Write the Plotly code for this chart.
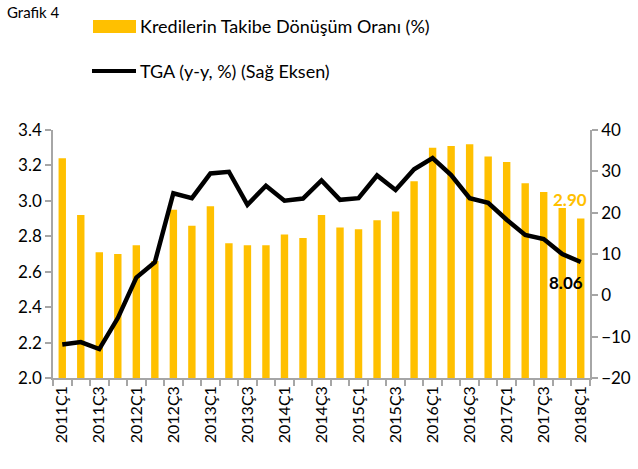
import plotly.graph_objects as go

categories = [f"{y}Ç{q}" for y in range(2011, 2019) for q in range(1, 5)][:29]
ratio = [3.24, 2.92, 2.71, 2.70, 2.75, 2.66, 2.95, 2.86, 2.97, 2.76, 2.75, 2.75,
         2.81, 2.79, 2.92, 2.85, 2.84, 2.89, 2.94, 3.11, 3.30, 3.31, 3.32, 3.25,
         3.22, 3.10, 3.05, 2.96, 2.90]
tga = [-11.9, -11.3, -13.0, -5.5, 4.3, 8.0, 24.7, 23.5, 29.5, 29.9, 21.9, 26.5,
       22.9, 23.4, 27.8, 23.1, 23.5, 29.0, 25.5, 30.5, 33.2, 29.1, 23.5, 22.4,
       18.3, 14.6, 13.6, 10.0, 8.06]
tick_labels = categories[::2]

ORANGE = "#FFC000"
FONT = "Lato"
AXIS_COL = "#A6A6A6"

xs = list(range(len(categories)))

fig = go.Figure()
fig.add_trace(go.Bar(x=xs, y=ratio, marker=dict(color=ORANGE, line=dict(width=0)),
                     name="Kredilerin Takibe Dönüşüm Oranı (%)", showlegend=False))
fig.add_trace(go.Scatter(x=xs, y=tga, mode="lines", yaxis="y2",
                         line=dict(color="black", width=4.5), name="TGA (y-y, %) (Sağ Eksen)",
                         showlegend=False))

fig.update_layout(
    width=638, height=469,
    margin=dict(l=53, r=48, t=130, b=91),
    paper_bgcolor="white", plot_bgcolor="white",
    font=dict(family=FONT, size=16, color="black"),
    bargap=0.6,
    xaxis=dict(range=[-0.5, len(categories) - 0.5], tickmode="array",
               tickvals=xs[::2], ticktext=tick_labels, tickangle=-90,
               ticks="", showline=True, linecolor=AXIS_COL, linewidth=1.5,
               showgrid=False, zeroline=False, tickfont=dict(size=16), automargin=False,
               minor=dict(ticks="outside", tick0=-0.5, dtick=1, ticklen=6,
                          tickcolor=AXIS_COL, tickwidth=1.5, showgrid=False)),
    yaxis=dict(range=[2.0, 3.4], dtick=0.2, tickformat=".1f", showline=True,
               linecolor=AXIS_COL, linewidth=1.5, ticks="outside", ticklen=6,
               tickcolor=AXIS_COL, tickwidth=1.5, showgrid=False, zeroline=False,
               tickfont=dict(size=17), automargin=False),
    yaxis2=dict(range=[-20, 40], dtick=10, overlaying="y", side="right",
                showline=True, linecolor=AXIS_COL, linewidth=1.5, ticks="outside",
                ticklen=6, tickcolor=AXIS_COL, tickwidth=1.5, showgrid=False,
                zeroline=False, tickfont=dict(size=17), automargin=False),
)

# Manual legend
fig.add_shape(type="rect", xref="paper", yref="paper",
              x0=(93 - 53) / 537, x1=(136 - 53) / 537,
              y0=(378 - 33) / 248, y1=(378 - 20) / 248,
              fillcolor=ORANGE, line=dict(width=0))
fig.add_shape(type="line", xref="paper", yref="paper",
              x0=(92 - 53) / 537, x1=(136 - 53) / 537,
              y0=(378 - 71) / 248, y1=(378 - 71) / 248,
              line=dict(color="black", width=4))
fig.add_annotation(xref="paper", yref="paper", x=(138 - 53) / 537, y=(378 - 26) / 248,
                   text="Kredilerin Takibe Dönüşüm Oranı (%)", showarrow=False,
                   xanchor="left", yanchor="middle", font=dict(size=18))
fig.add_annotation(xref="paper", yref="paper", x=(138 - 53) / 537, y=(378 - 71) / 248,
                   text="TGA (y-y, %) (Sağ Eksen)", showarrow=False,
                   xanchor="left", yanchor="middle", font=dict(size=18))
fig.add_annotation(xref="paper", yref="paper", x=(5 - 53) / 537, y=(378 - 12) / 248,
                   text="Grafik 4", showarrow=False, xanchor="left", yanchor="middle",
                   font=dict(size=15))

# Value labels
fig.add_annotation(x=xs[-1], y=ratio[-1], xref="x", yref="y",
                   text=f"<b>{ratio[-1]:.2f}</b>", showarrow=False, xshift=-11, yshift=19,
                   font=dict(size=17, color=ORANGE, family=FONT))
fig.add_annotation(x=xs[-1], y=tga[-1], xref="x", yref="y2",
                   text=f"<b>{tga[-1]:.2f}</b>", showarrow=False, xshift=-15, yshift=-20,
                   font=dict(size=17, color="black", family=FONT))

fig.write_html("out.html", config={"displayModeBar": False},
               post_script="document.body.style.margin='0';document.body.style.overflow='hidden';")
